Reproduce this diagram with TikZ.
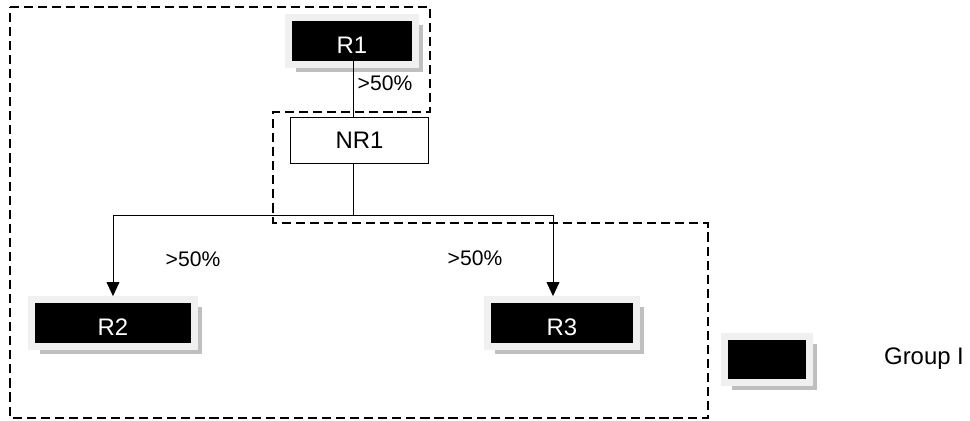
\documentclass[tikz,border=0pt]{standalone}
\usepackage{fontspec}
\setmainfont{Liberation Sans}
\usetikzlibrary{
        arrows.meta,
        shadows,
        positioning
    }
\tikzset{>={Triangle[length=0.35cm,width=0.32cm]},auto}
\tikzset{every node/.style={font=\fontsize{17}{20}\selectfont}}

\begin{document}
\begin{tikzpicture}[x=0.025cm,y=-0.025cm,line width=0.7pt]
	\tikzset{resbox/.style={fill=black,text=white,draw=black!6,line width=0.175cm,
			drop shadow={shadow xshift=0.19cm,shadow yshift=-0.19cm,fill=black!25,opacity=1},
			minimum width=#1,minimum height=1.17cm,inner sep=0pt,text height=18pt,text depth=0pt},
		nrbox/.style={draw,fill=white,minimum width=3.425cm,minimum height=1.15cm},
		share/.style={font=\fontsize{15}{18}\selectfont},
		grouped/.style={line width=1.1pt,dash pattern=on 6.5pt off 3.5pt}}
	\useasboundingbox (0,0) rectangle (970,420);
	% group outline
	\draw[grouped] (10,7) -- (430,7) -- (430,112) -- (273,112) -- (273,223)
		-- (708,223) -- (708,418) -- (10,418) -- cycle;
	\node[resbox=3.175cm] (r1) at (352,41) {R1};
	\node[nrbox] (nr1) at (359.5,140) {NR1};
	\node[resbox=4.05cm] (r2) at (113,323) {R2};
	\node[resbox=3.725cm] (r3) at (562,323) {R3};
	\node[resbox=2.125cm,minimum height=1.15cm] (legend) at (767,359.5) {};
	\node (legtext) at (924,359) {Group I};
	\coordinate (split) at (353,215);
	\coordinate (r3in) at (553,215);
	\draw ([yshift=0.2cm]r1.south -| split) -- (nr1.north -| split);
	\draw (nr1.south -| split) -- (split);
	\draw[->] (split) -| (r2.north);
	\draw[->] (split) -- (r3in) -- (r3in |- r3.north);
	\node[share] (p1) at (385,83) {>50\%};
	\node[share] (p2) at (193,259) {>50\%};
	\node[share] (p3) at (475,258) {>50\%};
\end{tikzpicture}
\end{document}
